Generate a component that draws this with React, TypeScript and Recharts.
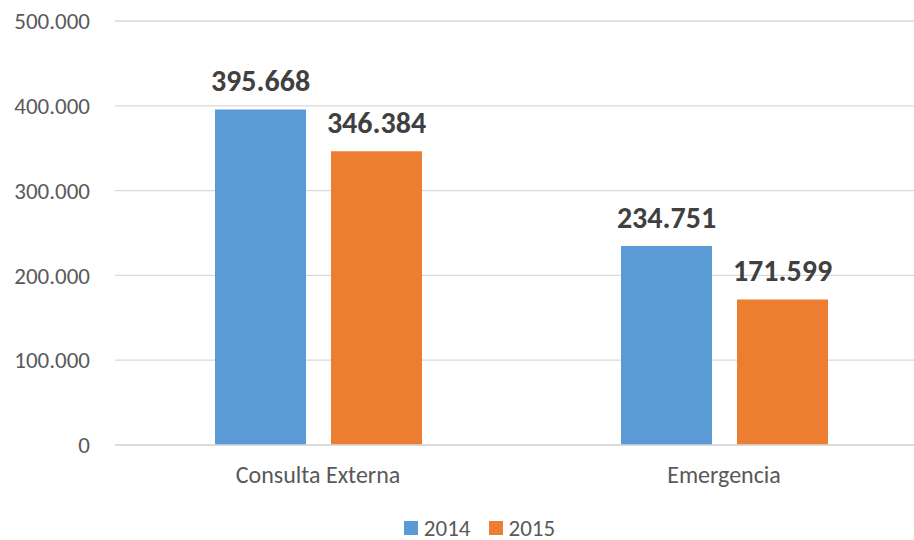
import React from "react";
import {BarChart, Bar, XAxis, YAxis, CartesianGrid, LabelList, Legend} from "recharts";

const categories = ["Consulta Externa", "Emergencia"];
const values2014 = [395668, 234751];
const values2015 = [346384, 171599];
const yTicks = [0, 100000, 200000, 300000, 400000, 500000];

const seriesNames = ["2014", "2015"];
const colors = ["#5B9BD5", "#ED7D31"];

const data = categories.map((name, i) => ({
    name,
    v2014: values2014[i],
    v2015: values2015[i],
}));

// thousands separated with dots, as in the source
const fmt = (v: number): string => String(Math.round(v)).replace(/\B(?=(\d{3})+(?!\d))/g, ".");

const FONT = "Carlito, 'Open Sans', Lato, sans-serif";

const renderLegend = () => (
    <div style={{
        display: "flex",
        justifyContent: "center",
        alignItems: "center",
        width: 930,
        paddingLeft: 29,
        boxSizing: "border-box",
        fontFamily: FONT,
        fontSize: 23,
        color: "#595959",
        height: 22,
    }}>
        {seriesNames.map((s, i) => (
            <div key={s} style={{display: "flex", alignItems: "center", marginRight: i === 0 ? 18 : 0}}>
                <span style={{width: 14, height: 14, background: colors[i], display: "inline-block", marginRight: 6}}/>
                <span style={{lineHeight: "22px"}}>{s}</span>
            </div>
        ))}
    </div>
);

const App = (): JSX.Element => {
    return (
        <div style={{position: "absolute", left: 0, top: 0, width: 914, height: 540, overflow: "hidden", background: "#fff"}}>
            <BarChart
                width={930}
                height={540}
                data={data}
                margin={{top: 21, right: 3, left: 0, bottom: 0}}
                barSize={91}
                barGap={25}
            >
                <CartesianGrid vertical={false} stroke="#D9D9D9" strokeWidth={1.3}/>
                <XAxis
                    dataKey="name"
                    axisLine={{stroke: "#D9D9D9", strokeWidth: 1.3}}
                    tickLine={false}
                    tickSize={0}
                    tickMargin={21}
                    height={73}
                    tick={{fill: "#595959", fontSize: 24, fontFamily: FONT}}
                />
                <YAxis
                    domain={[0, 500000]}
                    ticks={yTicks}
                    width={115}
                    axisLine={false}
                    tickLine={false}
                    tickSize={0}
                    tickMargin={25}
                    tickFormatter={fmt}
                    tick={{fill: "#595959", fontSize: 23, fontFamily: FONT}}
                />
                <Legend
                    content={renderLegend}
                    wrapperStyle={{position: "absolute", left: 0, top: 517, width: 930, height: 22}}
                />
                <Bar dataKey="v2014" name="2014" fill={colors[0]} isAnimationActive={false}>
                    <LabelList
                        dataKey="v2014"
                        position="top"
                        offset={18}
                        formatter={(v: any) => fmt(Number(v))}
                        style={{fill: "#404040", fontSize: 30, fontWeight: 700, fontFamily: FONT}}
                    />
                </Bar>
                <Bar dataKey="v2015" name="2015" fill={colors[1]} isAnimationActive={false}>
                    <LabelList
                        dataKey="v2015"
                        position="top"
                        offset={18}
                        formatter={(v: any) => fmt(Number(v))}
                        style={{fill: "#404040", fontSize: 30, fontWeight: 700, fontFamily: FONT}}
                    />
                </Bar>
            </BarChart>
        </div>
    );
};

export default App;
